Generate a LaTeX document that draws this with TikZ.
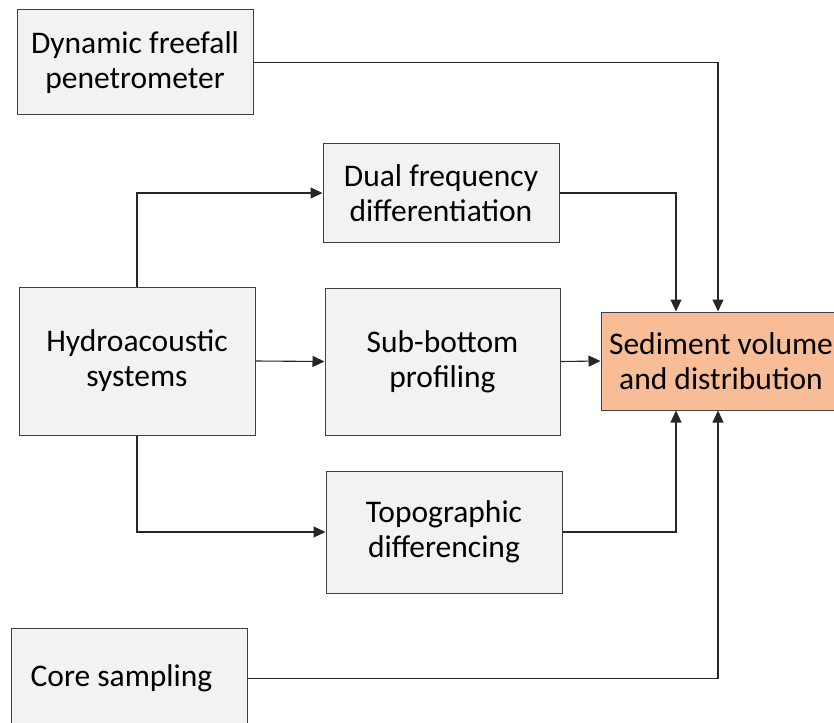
\documentclass[tikz,border=0pt]{standalone}
\usepackage{fontspec}
\setmainfont{Carlito}
\usetikzlibrary{arrows.meta,calc}
\begin{document}
\begin{tikzpicture}[x=1pt,y=-1pt,
  box/.style={draw=black!75, line width=1pt, fill=black!5, align=center,
    font=\fontsize{31.5}{35}\selectfont, inner sep=0pt},
  target/.style={box, fill={rgb,255:red,248;green,189;blue,150}},
  link/.style={draw=black!85, line width=1.1pt},
  arr/.style={link, -{Triangle[length=12pt,width=11pt]}}]
\useasboundingbox (0,0) rectangle (834,722);

\node[box, minimum width=236pt, minimum height=105pt] (dfp) at (135,62.5) {Dynamic freefall\\penetrometer};
\node[box, minimum width=236pt, minimum height=98pt] (dual) at (441,193) {Dual frequency\\differentiation};
\node[box, minimum width=236pt, minimum height=148pt] (hydro) at (137,361) {Hydroacoustic\\systems};
\node[box, minimum width=235pt, minimum height=147pt] (sub) at (442.5,361.5) {Sub-bottom\\profiling};
\node[target, minimum width=240pt, minimum height=98pt] (sed) at (721,361) {Sediment volume\\and distribution};
\node[box, minimum width=236pt, minimum height=100pt, anchor=north west] (core) at (11,628) {Core sampling\hspace*{16pt}};
\node[box, minimum width=236pt, minimum height=122pt] (topo) at (444,532) {Topographic\\differencing};

% entry points on the target box
\coordinate (inA) at ($(sed.north)+(-45,0)$);
\coordinate (inB) at ($(sed.north)+(-3,0)$);
\coordinate (inC) at ($(sed.south)+(-45,0)$);
\coordinate (inD) at ($(sed.south)+(-3,0)$);

\draw[arr] (dfp.east) -| (inB);
\draw[arr] (dual.east) -| (inA);
\draw[arr] (hydro.east) -- (sub.west);
\draw[arr] (sub.east) -- (sed.west);
\draw[arr] (hydro.north) |- (dual.west);
\draw[arr] (hydro.south) |- (topo.west);
\draw[arr] (topo.east) -| (inC);
\draw[arr] (core.east) -| (inD);
\end{tikzpicture}
\end{document}
